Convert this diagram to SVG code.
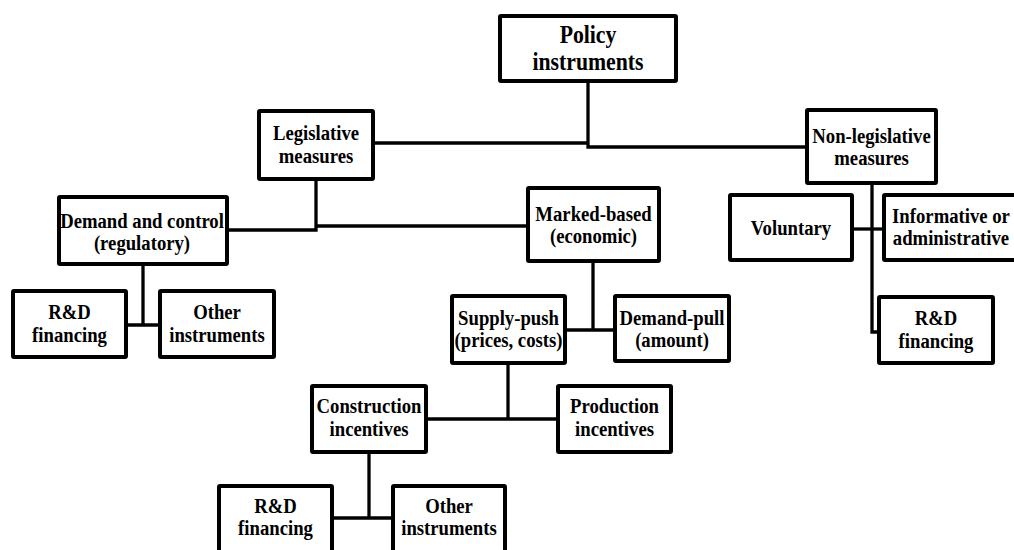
<svg xmlns="http://www.w3.org/2000/svg" width="1014" height="550" viewBox="0 0 1014 550">
<style>
.bx{fill:#fff;stroke:#000;stroke-width:4;}
.c{fill:none;stroke:#000;stroke-width:3.3;stroke-linejoin:miter;}
text{font-family:"Liberation Serif","Times New Roman",serif;font-weight:bold;font-size:22px;fill:#000;text-anchor:middle;}
.big{font-size:25px;}
</style>
<rect width="1014" height="550" fill="#fff"/>
<g id="connectors">
<path class="c" d="M373,143 H588"/>
<path class="c" d="M588,81 V147 H807"/>
<path class="c" d="M227,230 H316 V179"/>
<path class="c" d="M316,226 H528"/>
<path class="c" d="M143,264 V325"/>
<path class="c" d="M126,325 H160"/>
<path class="c" d="M872,183 V332 H879"/>
<path class="c" d="M852,229 H884"/>
<path class="c" d="M593,261 V330"/>
<path class="c" d="M565,330 H615"/>
<path class="c" d="M508,363 V419"/>
<path class="c" d="M426,419 H558"/>
<path class="c" d="M369,452 V518"/>
<path class="c" d="M332,518 H393"/>
</g>
<g id="policy">
<rect class="bx" x="500" y="16" width="176" height="65" rx="1"/>
<text class="big" transform="translate(588,48.5) scale(0.87,1)"><tspan x="0" y="-5.5">Policy</tspan><tspan x="0" y="21.5">instruments</tspan></text>
</g>
<g id="legislative">
<rect class="bx" x="259" y="111" width="114" height="68" rx="1"/>
<text transform="translate(316,145) scale(0.85,1)"><tspan x="0" y="-5">Legislative</tspan><tspan x="0" y="18">measures</tspan></text>
</g>
<g id="nonlegislative">
<rect class="bx" x="807" y="110" width="129" height="73" rx="1"/>
<text transform="translate(871.5,146.5) scale(0.85,1)"><tspan x="0" y="-4">Non-legislative</tspan><tspan x="0" y="18.5">measures</tspan></text>
</g>
<g id="demandcontrol">
<rect class="bx" x="59" y="197" width="168" height="67" rx="1"/>
<text transform="translate(142,230.5) scale(0.85,1)"><tspan x="0" y="-3">Demand and control</tspan><tspan x="0" y="20">(regulatory)</tspan></text>
</g>
<g id="marketbased">
<rect class="bx" x="528" y="188" width="131" height="73" rx="1"/>
<text transform="translate(593.5,224.5) scale(0.85,1)"><tspan x="0" y="-4">Marked-based</tspan><tspan x="0" y="18.5">(economic)</tspan></text>
</g>
<g id="voluntary">
<rect class="bx" x="730" y="195" width="122" height="65" rx="1"/>
<text transform="translate(791,235) scale(0.85,1)">Voluntary</text>
</g>
<g id="informative">
<rect class="bx" x="884" y="195" width="140" height="65" rx="1"/>
<text transform="translate(951,227.5) scale(0.85,1)"><tspan x="0" y="-4.5">Informative or</tspan><tspan x="0" y="17.5">administrative</tspan></text>
</g>
<g id="rd-left">
<rect class="bx" x="13" y="291" width="113" height="66" rx="1"/>
<text transform="translate(69.5,324) scale(0.85,1)"><tspan x="0" y="-5.5">R&amp;D</tspan><tspan x="0" y="18">financing</tspan></text>
</g>
<g id="other-left">
<rect class="bx" x="160" y="291" width="114" height="66" rx="1"/>
<text transform="translate(217,324) scale(0.85,1)"><tspan x="0" y="-5.5">Other</tspan><tspan x="0" y="18">instruments</tspan></text>
</g>
<g id="supplypush">
<rect class="bx" x="452" y="296" width="113" height="67" rx="1"/>
<text transform="translate(508.5,329.5) scale(0.85,1)"><tspan x="0" y="-4.5">Supply-push</tspan><tspan x="0" y="17.5">(prices, costs)</tspan></text>
</g>
<g id="demandpull">
<rect class="bx" x="615" y="296" width="114" height="65" rx="1"/>
<text transform="translate(672,328.5) scale(0.85,1)"><tspan x="0" y="-3.5">Demand-pull</tspan><tspan x="0" y="18.5">(amount)</tspan></text>
</g>
<g id="rd-right">
<rect class="bx" x="879" y="297" width="114" height="66" rx="1"/>
<text transform="translate(936,330) scale(0.85,1)"><tspan x="0" y="-5.5">R&amp;D</tspan><tspan x="0" y="18">financing</tspan></text>
</g>
<g id="construction">
<rect class="bx" x="312" y="386" width="114" height="66" rx="1"/>
<text transform="translate(369,419) scale(0.85,1)"><tspan x="0" y="-6">Construction</tspan><tspan x="0" y="17">incentives</tspan></text>
</g>
<g id="production">
<rect class="bx" x="558" y="386" width="113" height="66" rx="1"/>
<text transform="translate(614.5,419) scale(0.85,1)"><tspan x="0" y="-6">Production</tspan><tspan x="0" y="17">incentives</tspan></text>
</g>
<g id="rd-bottom">
<rect class="bx" x="219" y="486" width="113" height="80" rx="1"/>
<text transform="translate(275.5,0) scale(0.85,1)"><tspan x="0" y="513">R&amp;D</tspan><tspan x="0" y="535">financing</tspan></text>
</g>
<g id="other-bottom">
<rect class="bx" x="393" y="486" width="112" height="80" rx="1"/>
<text transform="translate(449,0) scale(0.85,1)"><tspan x="0" y="513">Other</tspan><tspan x="0" y="535">instruments</tspan></text>
</g>
</svg>
